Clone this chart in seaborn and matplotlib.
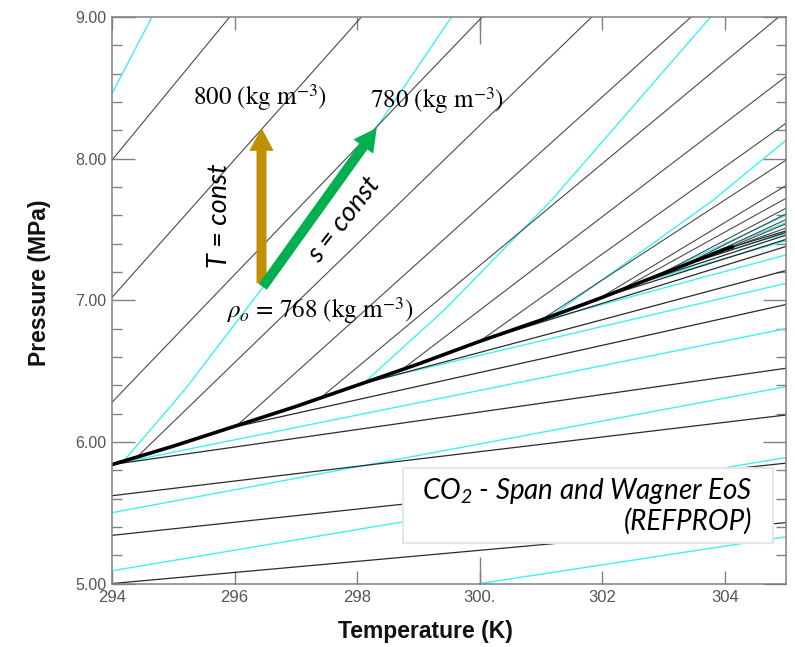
import numpy as np
import pandas as pd
import matplotlib
matplotlib.use("Agg")
import matplotlib.pyplot as plt
import seaborn as sns
from matplotlib.patches import Rectangle
from matplotlib.ticker import MultipleLocator, FixedLocator

sns.set_theme(style="white")
plt.rcParams["font.family"] = ["Liberation Sans", "DejaVu Sans"]
plt.rcParams["mathtext.fontset"] = "custom"
plt.rcParams["mathtext.rm"] = "Lato:italic"
plt.rcParams["mathtext.it"] = "Lato:italic"

# ---------------- data ----------------
# saturation curve (T in K, P in MPa)
sat_T = [294.0, 295.0, 296.0, 297.0, 298.0, 299.0, 300.0, 301.0, 302.0, 303.0, 304.0, 304.13]
sat_P = [5.84, 5.97, 6.11, 6.25, 6.40, 6.55, 6.71, 6.86, 7.02, 7.19, 7.36, 7.377]

# isochores, liquid / dense side (black)
liq_iso_T = [[294.00, 295.92], [294.00, 298.07], [294.00, 300.04], [294.40, 301.83],
             [296.05, 303.45], [297.40, 304.88], [298.70, 305.00], [300.00, 305.00],
             [301.00, 305.00], [301.90, 305.00], [302.20, 305.00], [302.80, 305.00],
             [303.30, 305.00], [303.70, 305.00], [303.95, 305.00], [304.10, 305.00]]
liq_iso_P = [[7.99, 9.00], [7.02, 9.00], [6.28, 9.00], [5.89, 9.00],
             [6.12, 9.00], [6.31, 9.00], [6.50, 8.58], [6.71, 8.25],
             [6.86, 7.99], [7.00, 7.81], [7.05, 7.72], [7.15, 7.65],
             [7.24, 7.61], [7.31, 7.57], [7.35, 7.54], [7.372, 7.51]]

# isochores, vapour side (black)
vap_iso_T = [[294.0, 305.0], [294.0, 305.0], [294.0, 305.0], [294.0, 305.0],
             [296.05, 305.0], [298.0, 305.0], [300.0, 305.0], [302.0, 305.0],
             [302.8, 305.0], [303.5, 305.0], [304.0, 305.0]]
vap_iso_P = [[5.00, 5.43], [5.34, 5.85], [5.62, 6.19], [5.84, 6.52],
             [6.11, 6.97], [6.40, 7.21], [6.71, 7.38], [7.02, 7.43],
             [7.15, 7.46], [7.27, 7.48], [7.36, 7.49]]

# isentropes, dense side (cyan)
liq_isen_T = [[294.00, 294.65], [294.18, 295.19, 296.46, 298.32, 299.54],
              [298.12, 299.42, 301.18, 303.77], [301.15, 303.82, 305.00],
              [302.60, 305.00], [303.60, 305.00]]
liq_isen_P = [[8.46, 9.00], [5.86, 6.37, 7.09, 8.22, 9.00],
              [6.42, 6.93, 7.71, 9.00], [6.88, 7.71, 8.13],
              [7.12, 7.60], [7.30, 7.55]]

# isentropes, vapour side (cyan)
vap_isen_T = [[300.0, 305.0], [294.0, 305.0], [294.0, 305.0], [294.0, 305.0],
              [298.12, 305.0], [300.8, 305.0], [302.6, 305.0], [303.6, 305.0]]
vap_isen_P = [[5.00, 5.33], [5.09, 5.89], [5.50, 6.39], [5.84, 6.80],
              [6.42, 7.12], [6.83, 7.32], [7.12, 7.42], [7.30, 7.47]]

# state point and labelled isochores
T0, P0 = 296.44, 7.11          # rho_o = 768 kg/m3
P_800 = 8.217                  # 800 kg/m3 at T0
T_780 = 298.32                 # isentrope meets 780 kg/m3

x_ticks = [294, 296, 298, 300, 302, 304]
x_tick_labels = ["294", "296", "298", "300.", "302", "304"]


def to_long(Ts, Ps, family):
    rows = []
    for i, (tt, pp) in enumerate(zip(Ts, Ps)):
        for t, p in zip(tt, pp):
            rows.append({"T": t, "P": p, "id": f"{family}{i}"})
    return pd.DataFrame(rows)


df_liq_iso = to_long(liq_iso_T, liq_iso_P, "li")
df_vap_iso = to_long(vap_iso_T, vap_iso_P, "vi")
df_liq_isen = to_long(liq_isen_T, liq_isen_P, "ls")
df_vap_isen = to_long(vap_isen_T, vap_isen_P, "vs")
df_sat = pd.DataFrame({"T": sat_T, "P": sat_P})

# ---------------- figure ----------------
fig = plt.figure(figsize=(7.95, 6.47), dpi=100)
ax = fig.add_axes([0.1409, 0.0981, 0.8478, 0.8756])

cyan = "#3ff0f6"
gray_line = "#4a4a4a"

sns.lineplot(data=df_liq_isen, x="T", y="P", units="id", estimator=None, sort=False,
             color=cyan, lw=1.0, ax=ax, legend=False)
sns.lineplot(data=df_vap_isen, x="T", y="P", units="id", estimator=None, sort=False,
             color=cyan, lw=1.0, ax=ax, legend=False)
sns.lineplot(data=df_liq_iso, x="T", y="P", units="id", estimator=None, sort=False,
             color=gray_line, lw=0.8, ax=ax, legend=False)
sns.lineplot(data=df_vap_iso, x="T", y="P", units="id", estimator=None, sort=False,
             color="#2a2a2a", lw=0.9, ax=ax, legend=False)
sns.lineplot(data=df_sat, x="T", y="P", estimator=None, sort=False,
             color="black", lw=2.6, ax=ax, legend=False)

ax.set_xlim(294, 305)
ax.set_ylim(5, 9)
ax.set_xlabel("")
ax.set_ylabel("")

# ticks
spine_c = "#808080"
for s in ax.spines.values():
    s.set_color(spine_c)
    s.set_linewidth(1.1)
ax.set_xticks(x_ticks)
ax.set_xticklabels(x_tick_labels)
ax.xaxis.set_minor_locator(FixedLocator([300]))
ax.xaxis.remove_overlapping_locs = False
ax.yaxis.set_major_locator(MultipleLocator(1.0))
ax.yaxis.set_minor_locator(MultipleLocator(0.2))
ax.set_yticklabels([f"{v:.2f}" for v in ax.get_yticks()])
ax.tick_params(axis="x", which="major", direction="in", length=9.5, width=1.0,
               color=spine_c, top=True, bottom=True, labelsize=12,
               labelcolor="#555555", pad=4.5)
ax.tick_params(axis="x", which="minor", direction="in", length=19.5, width=1.0,
               color=spine_c, top=True, bottom=True)
ax.tick_params(axis="y", which="major", direction="in", length=16.5, width=1.0,
               color=spine_c, left=True, right=True, labelsize=11.5,
               labelcolor="#555555", pad=4.3)
ax.tick_params(axis="y", which="minor", direction="in", length=7.2, width=1.0,
               color=spine_c, left=True, right=True)
ax.grid(False)

fig.text(0.535, 0.0232, "Temperature (K)", ha="center", va="center",
         fontsize=16.5, fontweight="bold", color="#111111")
fig.text(0.050, 0.563, "Pressure (MPa)", ha="center", va="center", rotation=90,
         fontsize=16.5, fontweight="bold", color="#111111")

# arrows
ax.annotate("", xy=(T0, P_800), xytext=(T0, P0 + 0.01),
            arrowprops=dict(arrowstyle="simple,head_width=1.75,head_length=1.65,tail_width=0.72",
                            fc="#bf9000", ec="none", mutation_scale=10,
                            shrinkA=0, shrinkB=0), zorder=6)
ax.annotate("", xy=(T_780, P_800), xytext=(T0 + 0.02, P0 - 0.015),
            arrowprops=dict(arrowstyle="simple,head_width=1.75,head_length=1.65,tail_width=0.72",
                            fc="#00b050", ec="none", mutation_scale=10,
                            shrinkA=0, shrinkB=0), zorder=7)

serif = dict(family="STIXGeneral", math_fontfamily="stix", fontsize=18, color="black")
ax.text(296.41, 8.43, r"800 (kg m$^{-3}$)", ha="center", va="center", **serif)
ax.text(299.31, 8.41, r"780 (kg m$^{-3}$)", ha="center", va="center", **serif)
ax.text(297.39, 6.93, r"$\rho_o$ = 768 (kg m$^{-3}$)", ha="center", va="center", **serif)

ax.text(295.76, 7.60, "T = const", rotation=90, ha="center", va="center",
        family="Lato", style="italic", fontsize=19.5, color="black")
ax.text(297.78, 7.57, "s = const", rotation=52, ha="center", va="center",
        family="Lato", style="italic", fontsize=19.5, color="black",
        rotation_mode="anchor")

# legend-like box
ax.add_patch(Rectangle((0.4318, 0.0715), 0.5489, 0.1324, transform=ax.transAxes,
                       fc="white", ec="#e6e6e6", lw=1.5, zorder=8))
ax.text(0.9496, 0.1629, "CO$_2$ - Span and Wagner EoS", transform=ax.transAxes,
        ha="right", va="center", family="Lato", style="italic", fontsize=20,
        color="black", zorder=9)
ax.text(0.9496, 0.1100, "(REFPROP)", transform=ax.transAxes,
        ha="right", va="center", family="Lato", style="italic", fontsize=20,
        color="black", zorder=9)

fig.savefig("out.png", dpi=100)
